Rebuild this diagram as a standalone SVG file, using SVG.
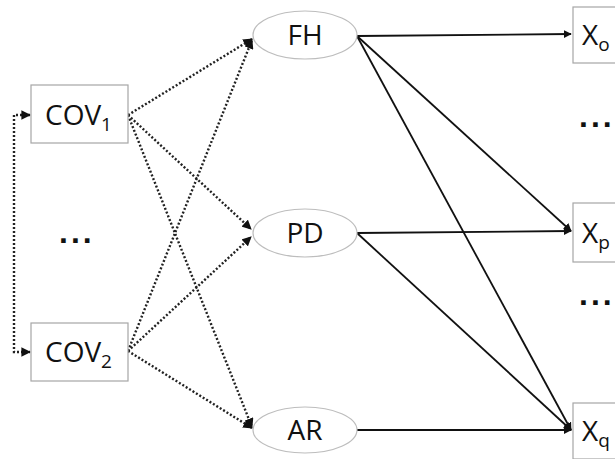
<svg xmlns="http://www.w3.org/2000/svg" width="615" height="459" viewBox="0 0 615 459">
  <style>
    .box { fill: #fff; stroke: #a6a6a6; stroke-width: 1.2; }
    .ell { fill: #fff; stroke: #bdbdbd; stroke-width: 1.2; }
    .lbl { font-family: "Open Sans", "Liberation Sans", sans-serif; font-size: 28px; fill: #111; }
    .sub { font-size: 19px; }
    .dots { font-family: "Liberation Sans", sans-serif; font-size: 32px; font-weight: bold; fill: #111; letter-spacing: 3px; }
    .dot { fill: none; stroke: #222; stroke-width: 2.4; stroke-dasharray: 2 2; }
    .sol { fill: none; stroke: #111; stroke-width: 1.8; }
  </style>
  <defs>
    <marker id="ah" viewBox="0 0 10 10" refX="9" refY="5" markerWidth="4.5" markerHeight="4.5" markerUnits="strokeWidth" orient="auto-start-reverse">
      <path d="M0,0 L10,5 L0,10 z" fill="#111"/>
    </marker>
    <marker id="ahd" viewBox="0 0 10 10" refX="9" refY="5" markerWidth="4" markerHeight="4" markerUnits="strokeWidth" orient="auto-start-reverse">
      <path d="M0,0 L10,5 L0,10 z" fill="#111"/>
    </marker>
  </defs>

  <rect width="615" height="459" fill="#fff"/>

  <g id="connectors">
    <!-- covariate loop -->
    <path class="dot" d="M30,115 H14 V352 H30" marker-start="url(#ahd)" marker-end="url(#ahd)"/>
    <!-- covariates to latent factors -->
    <line class="dot" x1="128" y1="115" x2="252" y2="39" marker-end="url(#ahd)"/>
    <line class="dot" x1="128" y1="115" x2="251" y2="229" marker-end="url(#ahd)"/>
    <line class="dot" x1="128" y1="115" x2="252" y2="427" marker-end="url(#ahd)"/>
    <line class="dot" x1="128" y1="351" x2="252" y2="40" marker-end="url(#ahd)"/>
    <line class="dot" x1="128" y1="351" x2="251" y2="237" marker-end="url(#ahd)"/>
    <line class="dot" x1="128" y1="351" x2="252" y2="428" marker-end="url(#ahd)"/>
    <!-- factors to indicators -->
    <line class="sol" x1="357" y1="36" x2="571" y2="34" marker-end="url(#ah)"/>
    <line class="sol" x1="357" y1="36" x2="571" y2="231" marker-end="url(#ah)"/>
    <line class="sol" x1="357" y1="36" x2="571" y2="430" marker-end="url(#ah)"/>
    <line class="sol" x1="357" y1="233" x2="571" y2="231" marker-end="url(#ah)"/>
    <line class="sol" x1="357" y1="233" x2="571" y2="430" marker-end="url(#ah)"/>
    <line class="sol" x1="357" y1="430" x2="571" y2="430" marker-end="url(#ah)"/>
  </g>

  <g id="cov1">
    <rect class="box" x="31" y="85" width="97" height="58"/>
    <text class="lbl" x="45" y="125">COV<tspan class="sub" dy="6">1</tspan></text>
  </g>
  <g id="cov-dots">
    <text class="dots" x="59" y="243">...</text>
  </g>
  <g id="cov2">
    <rect class="box" x="31" y="323" width="97" height="58"/>
    <text class="lbl" x="45" y="362">COV<tspan class="sub" dy="6">2</tspan></text>
  </g>

  <g id="fh">
    <ellipse class="ell" cx="305" cy="35" rx="52" ry="24"/>
    <text class="lbl" x="305" y="45" text-anchor="middle">FH</text>
  </g>
  <g id="pd">
    <ellipse class="ell" cx="305" cy="233" rx="52" ry="24"/>
    <text class="lbl" x="305" y="243" text-anchor="middle">PD</text>
  </g>
  <g id="ar">
    <ellipse class="ell" cx="305" cy="430" rx="52" ry="23"/>
    <text class="lbl" x="305" y="440" text-anchor="middle">AR</text>
  </g>

  <g id="xo">
    <rect class="box" x="573" y="7" width="50" height="56"/>
    <text class="lbl" x="582" y="45">X<tspan class="sub" dy="6">o</tspan></text>
  </g>
  <g id="x-dots-upper">
    <text class="dots" x="579" y="127">...</text>
  </g>
  <g id="xp">
    <rect class="box" x="573" y="203" width="50" height="59"/>
    <text class="lbl" x="582" y="243">X<tspan class="sub" dy="6">p</tspan></text>
  </g>
  <g id="x-dots-lower">
    <text class="dots" x="579" y="305">...</text>
  </g>
  <g id="xq">
    <rect class="box" x="573" y="403" width="50" height="56"/>
    <text class="lbl" x="582" y="441">X<tspan class="sub" dy="6">q</tspan></text>
  </g>
</svg>
